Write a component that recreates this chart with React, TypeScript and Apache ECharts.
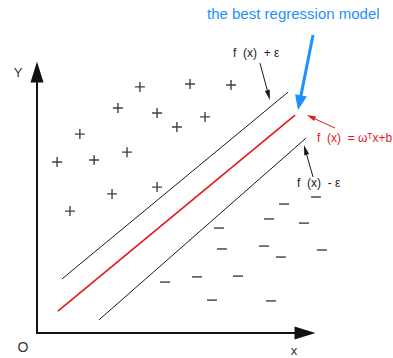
import React, { useEffect, useRef } from "react";
import * as echarts from "echarts";

// Positive samples ("+") in data units (x, y)
const plusPoints: [number, number][] = [
  [3.84, 9.43], [5.71, 9.54], [7.24, 9.5], [3.02, 8.62], [4.48, 8.43],
  [6.27, 8.28], [5.22, 7.89], [1.6, 7.62], [3.36, 6.93], [0.75, 6.55],
  [2.13, 6.63], [2.8, 5.33], [4.48, 5.59], [1.23, 4.67],
];

// Negative samples ("−") in data units (x, y)
const minusPoints: [number, number][] = [
  [10.41, 5.21], [9.22, 4.94], [8.66, 4.37], [9.96, 4.21], [6.79, 4.02],
  [6.9, 3.22], [8.47, 3.33], [9.1, 2.91], [10.63, 3.18], [7.5, 2.18],
  [5.97, 2.15], [4.78, 1.95], [6.53, 1.26], [8.73, 1.23],
];

// Regression line and epsilon margins (two end points each)
const upperMargin: [number, number][] = [[0.93, 2.07], [9.37, 9.23]];
const regressionLine: [number, number][] = [[0.78, 0.84], [9.63, 8.35]];
const lowerMargin: [number, number][] = [[2.31, 0.5], [10.34, 7.74]];

// Annotation arrows: [fromX, fromY, toX, toY]
const arrowBest: number[] = [10.3, 11.42, 9.74, 8.54];
const arrowUpper: number[] = [8.32, 10.34, 8.69, 8.93];
const arrowModel: number[] = [11.12, 7.85, 10.07, 8.35];
const arrowLower: number[] = [10.3, 5.98, 9.96, 7.2];

// Texts
const titleText = "the best regression model";
const upperLabel = "f  (x)  + ε";
const modelLabel = "f  (x)  = ωᵀx+b";
const lowerLabel = "f  (x)  - ε";
const axisTexts = { y: "Y", x: "x", origin: "O" };

const BLUE = "#1e8fff";
const RED = "#e5161b";
const INK = "#1a1a1a";
const FONT = '"Liberation Sans", Arial, sans-serif';

const arrowStyles = [
  { color: BLUE, width: 3, headL: 15, headW: 12 },
  { color: INK, width: 1, headL: 10, headW: 5 },
  { color: RED, width: 1, headL: 9, headW: 5 },
  { color: INK, width: 1, headL: 10, headW: 5 },
];

export default function App() {
  const ref = useRef<HTMLDivElement>(null);

  useEffect(() => {
    if (!ref.current) return;
    const chart = echarts.init(ref.current, null, { renderer: "svg" });

    const text = (
      t: string,
      x: number,
      y: number,
      fill: string,
      size: number,
      align: string = "left"
    ) => ({
      type: "text",
      x,
      y,
      silent: true,
      style: {
        text: t,
        fill,
        font: `${size}px ${FONT}`,
        align,
        verticalAlign: "middle",
      },
    });

    chart.setOption({
      animation: false,
      backgroundColor: "#fff",
      grid: { left: 37, top: 72, width: 268, height: 261, containLabel: false },
      xAxis: {
        type: "value",
        min: 0,
        max: 10,
        axisLine: {
          show: true,
          onZero: false,
          symbol: ["none", "triangle"],
          symbolSize: [13, 21],
          lineStyle: { color: "#111", width: 2 },
        },
        axisTick: { show: false },
        axisLabel: { show: false },
        splitLine: { show: false },
      },
      yAxis: {
        type: "value",
        min: 0,
        max: 10,
        axisLine: {
          show: true,
          onZero: false,
          symbol: ["none", "triangle"],
          symbolSize: [13, 21],
          lineStyle: { color: "#111", width: 2 },
        },
        axisTick: { show: false },
        axisLabel: { show: false },
        splitLine: { show: false },
      },
      series: [
        {
          type: "line",
          data: upperMargin,
          symbol: "none",
          clip: false,
          silent: true,
          lineStyle: { color: INK, width: 1 },
        },
        {
          type: "line",
          data: regressionLine,
          symbol: "none",
          clip: false,
          silent: true,
          lineStyle: { color: RED, width: 1.6 },
        },
        {
          type: "line",
          data: lowerMargin,
          symbol: "none",
          clip: false,
          silent: true,
          lineStyle: { color: INK, width: 1 },
        },
        {
          type: "scatter",
          data: plusPoints,
          clip: false,
          silent: true,
          symbol: "path://M0,5L10,5M5,0L5,10",
          symbolSize: 10,
          itemStyle: { color: "rgba(0,0,0,0)", borderColor: "#111", borderWidth: 1.4 },
        },
        {
          type: "scatter",
          data: minusPoints,
          clip: false,
          silent: true,
          symbol: "rect",
          symbolSize: [10, 1.6],
          itemStyle: { color: "#2a2a2a" },
        },
        {
          type: "custom",
          clip: false,
          silent: true,
          data: [arrowBest, arrowUpper, arrowModel, arrowLower],
          encode: { x: [0, 2], y: [1, 3] },
          renderItem: (params: any, api: any) => {
            const st = arrowStyles[params.dataIndex];
            const p1 = api.coord([api.value(0), api.value(1)]);
            const p2 = api.coord([api.value(2), api.value(3)]);
            const dx = p2[0] - p1[0];
            const dy = p2[1] - p1[1];
            const len = Math.hypot(dx, dy) || 1;
            const ux = dx / len;
            const uy = dy / len;
            const bx = p2[0] - ux * st.headL;
            const by = p2[1] - uy * st.headL;
            const nx = -uy;
            const ny = ux;
            const hw = st.headW / 2;
            return {
              type: "group",
              children: [
                {
                  type: "line",
                  shape: { x1: p1[0], y1: p1[1], x2: bx + ux * 1, y2: by + uy * 1 },
                  style: { stroke: st.color, lineWidth: st.width },
                },
                {
                  type: "polygon",
                  shape: {
                    points: [
                      [p2[0], p2[1]],
                      [bx + nx * hw, by + ny * hw],
                      [bx - nx * hw, by - ny * hw],
                    ],
                  },
                  style: { fill: st.color },
                },
              ],
            };
          },
        },
      ],
      graphic: [
        text(titleText, 207, 13, BLUE, 15),
        text(upperLabel, 233, 53, INK, 12),
        text(modelLabel, 317, 138, RED, 12),
        text(lowerLabel, 297, 183, INK, 12),
        text(axisTexts.y, 18, 72, "#333", 13, "center"),
        text(axisTexts.origin, 23, 347, "#333", 14, "center"),
        text(axisTexts.x, 294, 350, "#333", 13, "center"),
      ],
    });

    return () => chart.dispose();
  }, []);

  return (
    <div
      ref={ref}
      style={{ position: "fixed", left: 0, top: 0, width: 393, height: 358, background: "#fff" }}
    />
  );
}
